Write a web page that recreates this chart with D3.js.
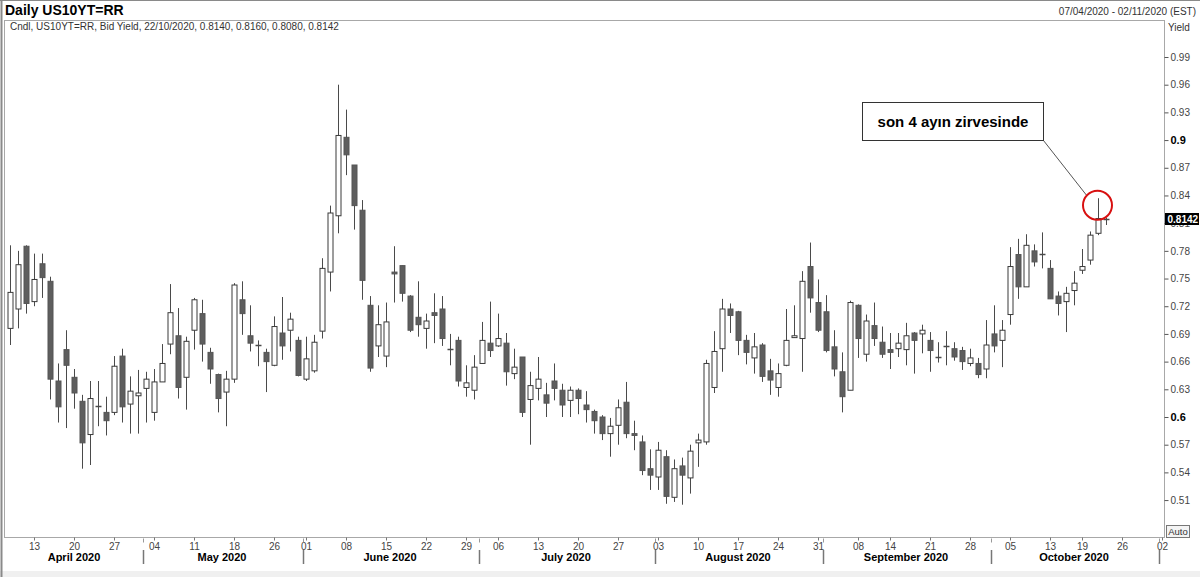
<!DOCTYPE html>
<html>
<head>
<meta charset="utf-8">
<script src="https://cdn.jsdelivr.net/npm/d3@7"></script>
<style>
  html, body { margin: 0; padding: 0; background: #fff; }
  svg { display: block; font-family: "Liberation Sans", Arial, sans-serif; }
</style>
</head>
<body>
<svg id="chart" width="1200" height="577"></svg>
<script>
// ---------- DATA ----------
const dates = [
  "2020-04-07","2020-04-08","2020-04-09","2020-04-13","2020-04-14","2020-04-15","2020-04-16","2020-04-17",
  "2020-04-20","2020-04-21","2020-04-22","2020-04-23","2020-04-24","2020-04-27","2020-04-28","2020-04-29","2020-04-30",
  "2020-05-01","2020-05-04","2020-05-05","2020-05-06","2020-05-07","2020-05-08","2020-05-11","2020-05-12","2020-05-13",
  "2020-05-14","2020-05-15","2020-05-18","2020-05-19","2020-05-20","2020-05-21","2020-05-22","2020-05-26","2020-05-27",
  "2020-05-28","2020-05-29",
  "2020-06-01","2020-06-02","2020-06-03","2020-06-04","2020-06-05","2020-06-08","2020-06-09","2020-06-10","2020-06-11",
  "2020-06-12","2020-06-15","2020-06-16","2020-06-17","2020-06-18","2020-06-19","2020-06-22","2020-06-23","2020-06-24",
  "2020-06-25","2020-06-26","2020-06-29","2020-06-30",
  "2020-07-01","2020-07-02","2020-07-06","2020-07-07","2020-07-08","2020-07-09","2020-07-10","2020-07-13","2020-07-14",
  "2020-07-15","2020-07-16","2020-07-17","2020-07-20","2020-07-21","2020-07-22","2020-07-23","2020-07-24","2020-07-27",
  "2020-07-28","2020-07-29","2020-07-30","2020-07-31",
  "2020-08-03","2020-08-04","2020-08-05","2020-08-06","2020-08-07","2020-08-10","2020-08-11","2020-08-12","2020-08-13",
  "2020-08-14","2020-08-17","2020-08-18","2020-08-19","2020-08-20","2020-08-21","2020-08-24","2020-08-25","2020-08-26",
  "2020-08-27","2020-08-28","2020-08-31",
  "2020-09-01","2020-09-02","2020-09-03","2020-09-04","2020-09-08","2020-09-09","2020-09-10","2020-09-11","2020-09-14",
  "2020-09-15","2020-09-16","2020-09-17","2020-09-18","2020-09-21","2020-09-22","2020-09-23","2020-09-24","2020-09-25",
  "2020-09-28","2020-09-29","2020-09-30",
  "2020-10-01","2020-10-02","2020-10-05","2020-10-06","2020-10-07","2020-10-08","2020-10-09","2020-10-13","2020-10-14",
  "2020-10-15","2020-10-16","2020-10-19","2020-10-20","2020-10-21","2020-10-22"
];
const futureDates = ["2020-10-23","2020-10-26","2020-10-27","2020-10-28","2020-10-29","2020-10-30","2020-11-02"];

const openVals = [
  0.696,0.717,0.785,0.725,0.766,0.747,0.639,0.673,0.643,0.617,0.581,0.612,0.605,0.605,0.666,0.614,0.623,
  0.631,0.605,0.638,0.679,0.688,0.643,0.694,0.712,0.670,0.646,0.627,0.641,0.727,0.688,0.678,0.670,0.656,0.691,0.694,0.683,
  0.641,0.650,0.693,0.757,0.818,0.903,0.873,0.824,0.721,0.677,0.666,0.757,0.764,0.731,0.708,0.696,0.713,0.717,0.674,0.683,0.632,0.629,
  0.658,0.680,0.677,0.680,0.647,0.665,0.619,0.631,0.624,0.639,0.629,0.618,0.629,0.613,0.606,0.600,0.582,0.591,0.616,0.582,0.573,0.544,
  0.535,0.557,0.513,0.547,0.534,0.572,0.573,0.632,0.674,0.717,0.714,0.683,0.664,0.678,0.650,0.632,0.656,0.686,0.685,0.763,0.724,
  0.714,0.676,0.649,0.629,0.721,0.668,0.699,0.681,0.673,0.674,0.673,0.691,0.690,0.683,0.666,0.677,0.674,0.672,0.658,0.658,0.652,
  0.690,0.683,0.711,0.776,0.741,0.780,0.777,0.761,0.731,0.725,0.737,0.759,0.770,0.799,0.8140
];
const highVals = [
  0.786,0.780,0.786,0.777,0.777,0.752,0.658,0.694,0.652,0.624,0.639,0.639,0.622,0.666,0.674,0.644,0.651,
  0.649,0.652,0.679,0.744,0.718,0.687,0.729,0.727,0.675,0.647,0.650,0.745,0.747,0.721,0.683,0.674,0.709,0.730,0.713,0.687,
  0.687,0.689,0.772,0.829,0.960,0.933,0.873,0.835,0.731,0.721,0.724,0.785,0.764,0.732,0.747,0.712,0.734,0.731,0.690,0.687,0.656,0.667,
  0.703,0.725,0.712,0.691,0.674,0.665,0.649,0.665,0.637,0.658,0.636,0.633,0.631,0.628,0.608,0.602,0.599,0.619,0.638,0.596,0.580,0.565,
  0.573,0.564,0.554,0.556,0.570,0.582,0.662,0.693,0.728,0.723,0.715,0.689,0.691,0.680,0.663,0.658,0.717,0.721,0.758,0.789,0.749,
  0.732,0.694,0.670,0.726,0.722,0.711,0.724,0.698,0.691,0.691,0.702,0.692,0.700,0.692,0.681,0.693,0.681,0.676,0.674,0.664,0.705,
  0.721,0.705,0.784,0.793,0.798,0.787,0.800,0.770,0.736,0.741,0.758,0.782,0.801,0.837,0.8160
];
const lowVals = [
  0.678,0.696,0.712,0.720,0.729,0.619,0.594,0.588,0.609,0.544,0.548,0.590,0.580,0.602,0.594,0.582,0.582,
  0.594,0.596,0.638,0.668,0.620,0.608,0.673,0.660,0.636,0.605,0.590,0.637,0.689,0.671,0.655,0.627,0.655,0.662,0.671,0.644,
  0.639,0.648,0.685,0.736,0.799,0.862,0.803,0.727,0.649,0.665,0.654,0.724,0.725,0.692,0.687,0.674,0.680,0.677,0.656,0.633,0.622,0.619,
  0.658,0.665,0.676,0.634,0.641,0.600,0.570,0.618,0.600,0.618,0.600,0.600,0.603,0.594,0.582,0.575,0.557,0.570,0.577,0.564,0.537,0.521,
  0.521,0.506,0.508,0.505,0.517,0.546,0.570,0.626,0.649,0.691,0.667,0.657,0.647,0.638,0.624,0.622,0.655,0.686,0.649,0.713,0.692,
  0.670,0.644,0.605,0.629,0.664,0.660,0.677,0.664,0.652,0.665,0.656,0.647,0.669,0.649,0.659,0.656,0.661,0.651,0.655,0.642,0.642,
  0.670,0.654,0.700,0.728,0.741,0.763,0.761,0.728,0.710,0.692,0.721,0.755,0.765,0.797,0.8080
];
const closeVals = [
  0.735,0.765,0.723,0.749,0.751,0.641,0.611,0.656,0.626,0.572,0.620,0.612,0.596,0.655,0.611,0.628,0.626,
  0.641,0.638,0.658,0.713,0.632,0.682,0.727,0.679,0.652,0.620,0.641,0.743,0.712,0.680,0.678,0.660,0.698,0.677,0.706,0.645,
  0.663,0.681,0.761,0.821,0.905,0.884,0.829,0.748,0.653,0.700,0.703,0.755,0.734,0.694,0.700,0.704,0.710,0.685,0.674,0.639,0.637,0.654,
  0.683,0.672,0.685,0.649,0.654,0.605,0.634,0.641,0.615,0.631,0.613,0.629,0.620,0.608,0.596,0.582,0.590,0.610,0.582,0.580,0.542,0.537,
  0.564,0.514,0.544,0.537,0.563,0.575,0.658,0.671,0.717,0.710,0.683,0.670,0.676,0.644,0.640,0.647,0.683,0.688,0.747,0.729,0.694,
  0.672,0.652,0.622,0.724,0.685,0.704,0.685,0.668,0.670,0.680,0.688,0.683,0.694,0.672,0.665,0.677,0.665,0.660,0.664,0.646,0.678,
  0.677,0.694,0.763,0.741,0.786,0.768,0.776,0.728,0.723,0.734,0.745,0.763,0.797,0.815,0.8142
];

const yTicks = [0.51,0.54,0.57,0.60,0.63,0.66,0.69,0.72,0.75,0.78,0.81,0.84,0.87,0.90,0.93,0.96,0.99];
const boldTicks = [0.60, 0.90];

const dayTickDates = ["2020-04-13","2020-04-20","2020-04-27","2020-05-04","2020-05-11","2020-05-18","2020-05-26",
  "2020-06-01","2020-06-08","2020-06-15","2020-06-22","2020-06-29","2020-07-06","2020-07-13","2020-07-20","2020-07-27",
  "2020-08-03","2020-08-10","2020-08-17","2020-08-24","2020-08-31","2020-09-08","2020-09-14","2020-09-21","2020-09-28",
  "2020-10-05","2020-10-13","2020-10-19","2020-10-26","2020-11-02"];
const monthKeys = ["2020-04","2020-05","2020-06","2020-07","2020-08","2020-09","2020-10"];
const monthLabels = ["April 2020","May 2020","June 2020","July 2020","August 2020","September 2020","October 2020"];
const separatorDates = ["2020-05-01","2020-06-01","2020-07-01","2020-08-03","2020-09-01","2020-10-01","2020-11-02"];

const titleText = "Daily US10YT=RR";
const legendText = "Cndl, US10YT=RR, Bid Yield, 22/10/2020, 0.8140, 0.8160, 0.8080, 0.8142";
const rangeText = "07/04/2020 - 02/11/2020 (EST)";
const lastValue = 0.8142;
const annotationText = "son 4 ayın zirvesinde";
const peakDate = "2020-10-21";

// ---------- LAYOUT ----------
const svg = d3.select("#chart");
const plot = {left: 4.5, top: 20.5, right: 1164.5, bottom: 537.5};
const allDates = dates.concat(futureDates);
const x = d3.scalePoint().domain(allDates).range([10, 1162]);
const y = d3.scaleLinear().domain([0.6, 0.99]).range([417, 57]);

// outer frame
svg.append("rect").attr("x",0).attr("y",0).attr("width",1200).attr("height",577).attr("fill","#fff");
svg.append("rect").attr("x",0).attr("y",571).attr("width",1200).attr("height",6).attr("fill","#f0f0f0");
svg.append("line").attr("x1",0).attr("x2",1200).attr("y1",0.5).attr("y2",0.5).attr("stroke","#8a8a8a");
svg.append("line").attr("x1",1.5).attr("x2",1.5).attr("y1",0).attr("y2",577).attr("stroke","#8a8a8a").attr("stroke-width",2);

// header
svg.append("text").attr("x",5).attr("y",15).attr("font-size",14).attr("font-weight","bold").attr("fill","#000").text(titleText);
svg.append("text").attr("x",1196).attr("y",15).attr("font-size",10).attr("text-anchor","end").attr("fill","#333").text(rangeText);

// plot box
svg.append("rect").attr("x",plot.left).attr("y",plot.top)
  .attr("width",plot.right-plot.left).attr("height",plot.bottom-plot.top)
  .attr("fill","#fff").attr("stroke","#a8a8a8");
svg.append("text").attr("x",10).attr("y",30).attr("font-size",10).attr("fill","#333").text(legendText);
svg.append("text").attr("x",1168).attr("y",31).attr("font-size",10).attr("fill","#333").text("Yield");

// y axis (right)
const yAxis = d3.axisRight(y).tickValues(yTicks).tickSize(4).tickPadding(2)
  .tickFormat(d => boldTicks.some(b => Math.abs(b-d)<1e-9) ? d3.format(".1f")(d) : d3.format(".2f")(d));
const gy = svg.append("g").attr("transform",`translate(${plot.right},0)`).call(yAxis);
gy.select(".domain").attr("stroke","#a8a8a8").attr("d",`M0,${plot.top}V${plot.bottom}`);
gy.selectAll(".tick line").attr("stroke","#555");
gy.selectAll(".tick text").attr("font-size",10).attr("fill","#444")
  .attr("font-family",'"Liberation Sans", Arial, sans-serif')
  .filter(d => boldTicks.some(b => Math.abs(b-d)<1e-9))
  .attr("font-weight","bold").attr("fill","#000").attr("font-size",11);

// last value badge
const by = Math.round(y(lastValue));
svg.append("rect").attr("x",plot.right+0.5).attr("y",by-6).attr("width",34).attr("height",12).attr("fill","#000");
svg.append("text").attr("x",plot.right+3).attr("y",by+4).attr("font-size",10).attr("font-weight","bold").attr("fill","#fff").text(d3.format(".4f")(lastValue));

// Auto button
svg.append("rect").attr("x",1166.5).attr("y",525.5).attr("width",23).attr("height",12).attr("fill","#f4f4f4").attr("stroke","#777");
svg.append("text").attr("x",1178).attr("y",535).attr("font-size",9.5).attr("text-anchor","middle").attr("fill","#333").text("Auto");

// x axis (day ticks)
const dayFmt = d3.timeFormat("%d");
const parse = d3.timeParse("%Y-%m-%d");
const xAxis = d3.axisBottom(x).tickValues(dayTickDates).tickSize(3).tickPadding(2)
  .tickFormat(d => dayFmt(parse(d)));
const gx = svg.append("g").attr("transform",`translate(0,${plot.bottom})`).call(xAxis);
gx.select(".domain").remove();
gx.selectAll(".tick line").attr("stroke","#777");
gx.selectAll(".tick text").attr("font-size",10).attr("fill","#444")
  .attr("font-family",'"Liberation Sans", Arial, sans-serif');

// month separators
separatorDates.forEach(d => {
  const sx = Math.round(x(d)) - 2.5;
  svg.append("line").attr("x1",sx).attr("x2",sx).attr("y1",plot.bottom+1).attr("y2",plot.bottom+5).attr("stroke","#999");
  svg.append("line").attr("x1",sx).attr("x2",sx).attr("y1",550).attr("y2",564).attr("stroke","#777").attr("stroke-width",1.5);
});
// month labels
monthKeys.forEach((m,i) => {
  const inMonth = allDates.filter(d => d.startsWith(m));
  const cx = (x(inMonth[0]) + x(inMonth[inMonth.length-1]))/2;
  svg.append("text").attr("x",cx).attr("y",561).attr("text-anchor","middle")
    .attr("font-size",11).attr("font-weight","bold").attr("fill","#000").text(monthLabels[i]);
});

// ---------- CANDLES ----------
const candles = dates.map((d,i) => ({d, o:openVals[i], h:highVals[i], l:lowVals[i], c:closeVals[i]}));
const g = svg.append("g");
g.selectAll("line.wick").data(candles).join("line").attr("class","wick")
  .attr("x1", d => Math.round(x(d.d))+0.5).attr("x2", d => Math.round(x(d.d))+0.5)
  .attr("y1", d => y(d.h)).attr("y2", d => y(d.l))
  .attr("stroke","#4a4a4a").attr("stroke-width",1);
g.selectAll("rect.body").data(candles.filter(d => Math.abs(d.o-d.c) > 0.0015)).join("rect").attr("class","body")
  .attr("x", d => Math.round(x(d.d))-2)
  .attr("width",5)
  .attr("y", d => y(Math.max(d.o,d.c)))
  .attr("height", d => Math.abs(y(d.o)-y(d.c)))
  .attr("fill", d => d.c > d.o ? "#fff" : "#5e5e5e")
  .attr("stroke", d => d.c > d.o ? "#3a3a3a" : "#555")
  .attr("stroke-width",1);
g.selectAll("line.doji").data(candles.filter(d => Math.abs(d.o-d.c) <= 0.0015)).join("line").attr("class","doji")
  .attr("x1", d => Math.round(x(d.d))-2.5).attr("x2", d => Math.round(x(d.d))+3.5)
  .attr("y1", d => Math.round(y((d.o+d.c)/2))+0.5).attr("y2", d => Math.round(y((d.o+d.c)/2))+0.5)
  .attr("stroke","#4a4a4a").attr("stroke-width",1.5);

// ---------- ANNOTATION ----------
const peak = candles.find(d => d.d === peakDate);
const pcx = x(peakDate) - 0.5, pcy = y(peak.h) + 7;
const box = {x: 862.5, y: 102.5, w: 181, h: 38};
svg.append("line").attr("x1", box.x+box.w).attr("y1", box.y+box.h)
  .attr("x2", pcx - 11).attr("y2", pcy - 10).attr("stroke","#555").attr("stroke-width",1);
svg.append("rect").attr("x",box.x).attr("y",box.y).attr("width",box.w).attr("height",box.h)
  .attr("fill","#fff").attr("stroke","#333").attr("stroke-width",1);
svg.append("text").attr("x",box.x+box.w/2).attr("y",box.y+box.h/2+5).attr("text-anchor","middle")
  .attr("font-size",15).attr("font-weight","bold").attr("fill","#000").text(annotationText);
svg.append("circle").attr("cx",pcx).attr("cy",pcy).attr("r",14.5)
  .attr("fill","none").attr("stroke","#d81010").attr("stroke-width",2);
</script>
</body>
</html>
